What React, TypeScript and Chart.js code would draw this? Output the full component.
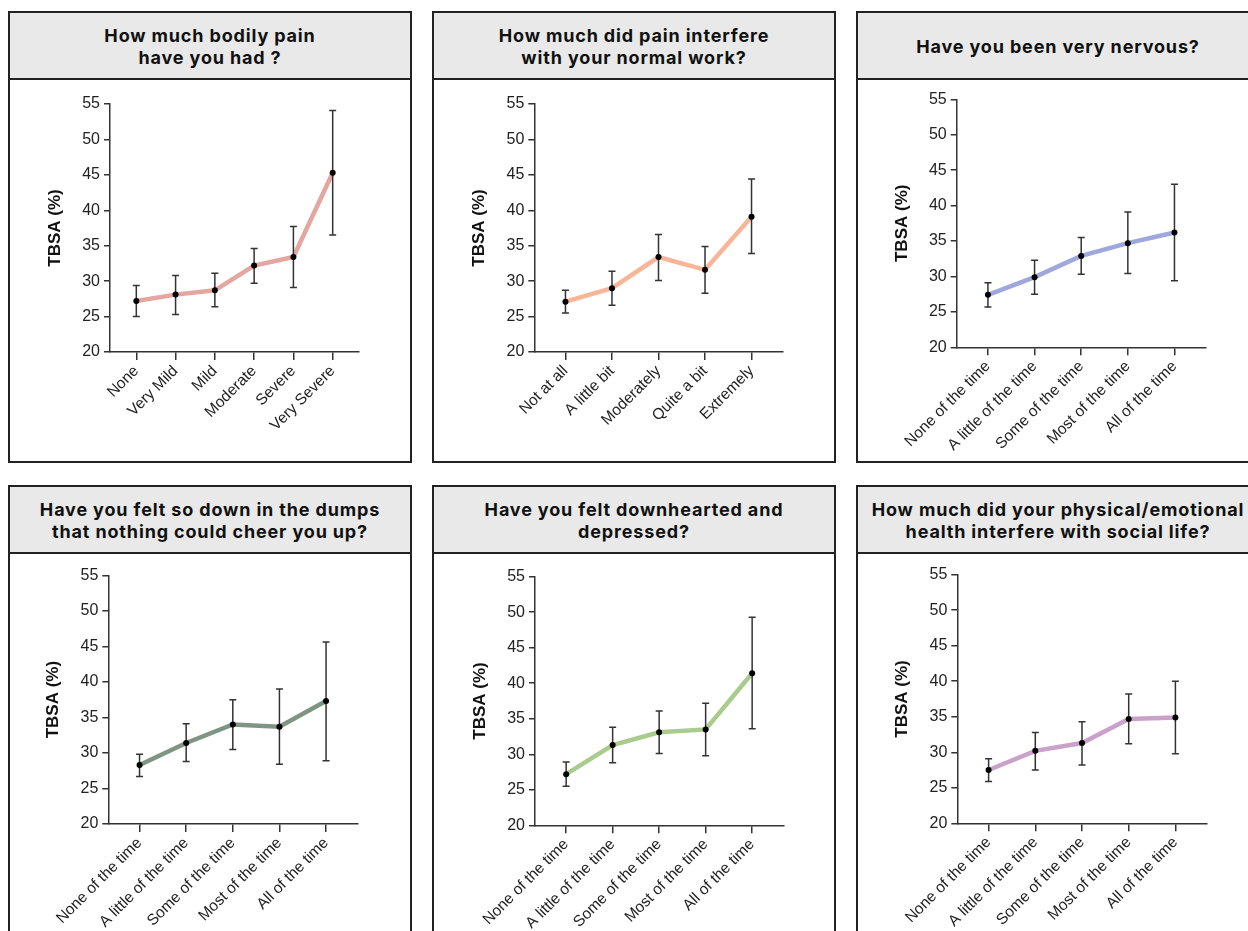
import React, { useEffect, useRef } from 'react';
import { Chart, registerables } from 'chart.js';

Chart.register(...registerables);

// ---------- data ----------
const yTickValues = [20, 25, 30, 35, 40, 45, 50, 55];

const painLabels = ['None', 'Very Mild', 'Mild', 'Moderate', 'Severe', 'Very Severe'];
const painMean = [27.2, 28.1, 28.7, 32.2, 33.4, 45.3];
const painLow = [25.0, 25.3, 26.4, 29.7, 29.1, 36.5];
const painHigh = [29.4, 30.8, 31.1, 34.6, 37.7, 54.1];

const workLabels = ['Not at all', 'A little bit', 'Moderately', 'Quite a bit', 'Extremely'];
const workMean = [27.1, 29.0, 33.4, 31.6, 39.1];
const workLow = [25.5, 26.6, 30.1, 28.3, 33.9];
const workHigh = [28.7, 31.4, 36.6, 34.9, 44.4];

const timeLabels = ['None of the time', 'A little of the time', 'Some of the time', 'Most of the time', 'All of the time'];

const nervousMean = [27.4, 29.9, 32.9, 34.7, 36.2];
const nervousLow = [25.7, 27.5, 30.3, 30.4, 29.4];
const nervousHigh = [29.1, 32.3, 35.5, 39.1, 43.0];

const dumpsMean = [28.3, 31.4, 34.0, 33.7, 37.3];
const dumpsLow = [26.7, 28.8, 30.5, 28.4, 28.9];
const dumpsHigh = [29.8, 34.1, 37.5, 39.0, 45.6];

const depressedMean = [27.2, 31.3, 33.1, 33.5, 41.4];
const depressedLow = [25.5, 28.8, 30.1, 29.8, 33.6];
const depressedHigh = [28.9, 33.8, 36.1, 37.2, 49.3];

const socialMean = [27.5, 30.2, 31.3, 34.7, 34.9];
const socialLow = [25.9, 27.5, 28.2, 31.2, 29.8];
const socialHigh = [29.1, 32.8, 34.3, 38.2, 40.0];

const titles = [
  ['How much bodily pain', 'have you had ?'],
  ['How much did pain interfere', 'with your normal work?'],
  ['Have you been very nervous?'],
  ['Have you felt so down in the dumps', 'that nothing could cheer you up?'],
  ['Have you felt downhearted and', 'depressed?'],
  ['How much did your physical/emotional', 'health interfere with social life?'],
];
const yAxisTitle = 'TBSA (%)';

// ---------- styles / layout ----------
const PANEL_W = 404;
const PANEL_H = 452;
const HEAD_H = 67; // including bottom border
const Y_W = 65;
const AXIS = '#333333';
const TXT = '#222222';
const TICK_FONT = '"Liberation Sans", Arial, Helvetica, sans-serif';
const X_PAD = 0.67;

const panels = [
  { x: 8, y: 11, L: 110, R: 359, T: 104, B: 352, color: '#e4a69e', labels: painLabels, mean: painMean, low: painLow, high: painHigh },
  { x: 432, y: 11, L: 534.3, R: 782.7, T: 104, B: 352, color: '#f8b597', labels: workLabels, mean: workMean, low: workLow, high: workHigh },
  { x: 856, y: 11, L: 956.7, R: 1205.7, T: 99.3, B: 347.3, color: '#9fa8dc', labels: timeLabels, mean: nervousMean, low: nervousLow, high: nervousHigh },
  { x: 8, y: 485, L: 108.3, R: 357.3, T: 575.3, B: 824, color: '#7f9583', labels: timeLabels, mean: dumpsMean, low: dumpsLow, high: dumpsHigh },
  { x: 432, y: 485, L: 535, R: 783.3, T: 576.7, B: 825.3, color: '#a9cc8d', labels: timeLabels, mean: depressedMean, low: depressedLow, high: depressedHigh },
  { x: 856, y: 485, L: 957.3, R: 1206.7, T: 574.7, B: 823.3, color: '#c9a1c9', labels: timeLabels, mean: socialMean, low: socialLow, high: socialHigh },
];

function Panel({ spec, title }: { spec: any; title: string[] }) {
  const ref = useRef<HTMLCanvasElement>(null);
  const cw = PANEL_W - 4;
  const ch = PANEL_H - 4 - HEAD_H;

  useEffect(() => {
    const ox = spec.x + 2;
    const oy = spec.y + 2 + HEAD_H;
    const cl = spec.L - ox;
    const cr = spec.R - ox;
    const ct = spec.T - oy;
    const cb = spec.B - oy;
    const labels: string[] = spec.labels;
    const n = labels.length;

    const errorBars = {
      id: 'errorBars',
      afterDatasetDraw(chart: any, args: any) {
        if (args.index !== 0) return;
        const ctx = chart.ctx;
        const xs = chart.scales.x;
        const ys = chart.scales.y;
        ctx.save();
        ctx.strokeStyle = AXIS;
        ctx.lineWidth = 1.5;
        spec.low.forEach((lo: number, i: number) => {
          const px = xs.getPixelForValue(i);
          const y1 = ys.getPixelForValue(lo);
          const y2 = ys.getPixelForValue(spec.high[i]);
          ctx.beginPath();
          ctx.moveTo(px, y1);
          ctx.lineTo(px, y2);
          ctx.moveTo(px - 3.5, y1);
          ctx.lineTo(px + 3.5, y1);
          ctx.moveTo(px - 3.5, y2);
          ctx.lineTo(px + 3.5, y2);
          ctx.stroke();
        });
        ctx.restore();
      },
    };

    const pts = spec.mean.map((v: number, i: number) => ({ x: i, y: v }));

    const chart = new Chart(ref.current as HTMLCanvasElement, {
      type: 'line',
      data: {
        datasets: [
          {
            data: pts,
            borderColor: spec.color,
            borderWidth: 4.5,
            pointRadius: 0,
            tension: 0,
            order: 1,
          },
          {
            data: pts,
            showLine: false,
            pointRadius: 3,
            pointBackgroundColor: '#000',
            pointBorderWidth: 0,
            order: 0,
          },
        ],
      } as any,
      options: {
        animation: false,
        responsive: false,
        maintainAspectRatio: false,
        events: [],
        layout: { padding: { left: cl - Y_W, right: cw - cr, top: ct, bottom: 0 } },
        plugins: { legend: { display: false }, tooltip: { enabled: false } },
        scales: {
          x: {
            type: 'linear',
            min: -X_PAD,
            max: n - 1 + X_PAD,
            afterBuildTicks: (s: any) => {
              s.ticks = labels.map((_, i) => ({ value: i }));
            },
            afterFit: (s: any) => {
              s.height = ch - cb;
              s.paddingLeft = 0;
              s.paddingRight = 0;
            },
            grid: { display: true, drawOnChartArea: false, drawTicks: true, tickLength: 8, color: AXIS, lineWidth: 1.5 },
            border: { display: true, color: AXIS, width: 1.5 },
            ticks: {
              autoSkip: false,
              maxRotation: 45,
              minRotation: 45,
              padding: 2,
              color: TXT,
              font: { family: TICK_FONT, size: 15.5 },
              callback: (v: any) => labels[v] ?? '',
            },
          },
          y: {
            type: 'linear',
            min: yTickValues[0],
            max: yTickValues[yTickValues.length - 1],
            afterBuildTicks: (s: any) => {
              s.ticks = yTickValues.map((v) => ({ value: v }));
            },
            afterFit: (s: any) => {
              s.width = Y_W;
              s.paddingTop = 0;
              s.paddingBottom = 0;
            },
            grid: { display: true, drawOnChartArea: false, drawTicks: true, tickLength: 6, color: AXIS, lineWidth: 1.5 },
            border: { display: true, color: AXIS, width: 1.5 },
            ticks: { padding: 4, color: TXT, font: { family: TICK_FONT, size: 16 } },
            title: {
              display: true,
              text: yAxisTitle,
              color: '#111',
              padding: 0,
              font: { family: TICK_FONT, size: 17, weight: 'bold' },
            },
          },
        },
      } as any,
      plugins: [errorBars],
    });
    return () => chart.destroy();
  }, []);

  return (
    <div
      style={{
        position: 'absolute',
        left: spec.x,
        top: spec.y,
        width: PANEL_W,
        height: PANEL_H,
        boxSizing: 'border-box',
        border: '2px solid #222',
        background: '#fff',
      }}
    >
      <div
        style={{
          height: HEAD_H,
          boxSizing: 'border-box',
          borderBottom: '2px solid #222',
          background: '#e8e9e8',
          display: 'flex',
          alignItems: 'center',
          justifyContent: 'center',
          flexDirection: 'column',
          paddingTop: 3,
          fontFamily: 'Inter, "Noto Sans", sans-serif',
          fontWeight: 700,
          fontSize: 18,
          letterSpacing: '0.85px',
          lineHeight: '22px',
          color: '#111',
          whiteSpace: 'nowrap',
          textAlign: 'center',
        }}
      >
        {title.map((t, i) => (
          <div key={i}>{t}</div>
        ))}
      </div>
      <canvas
        ref={ref}
        width={cw}
        height={ch}
        style={{ position: 'absolute', left: 0, top: HEAD_H, width: cw, height: ch }}
      />
    </div>
  );
}

export default function App() {
  return (
    <div
      style={{
        position: 'fixed',
        left: 0,
        top: 0,
        width: 1248,
        height: 931,
        overflow: 'hidden',
        background: '#fff',
      }}
    >
      {panels.map((p, i) => (
        <Panel key={i} spec={p} title={titles[i]} />
      ))}
    </div>
  );
}
